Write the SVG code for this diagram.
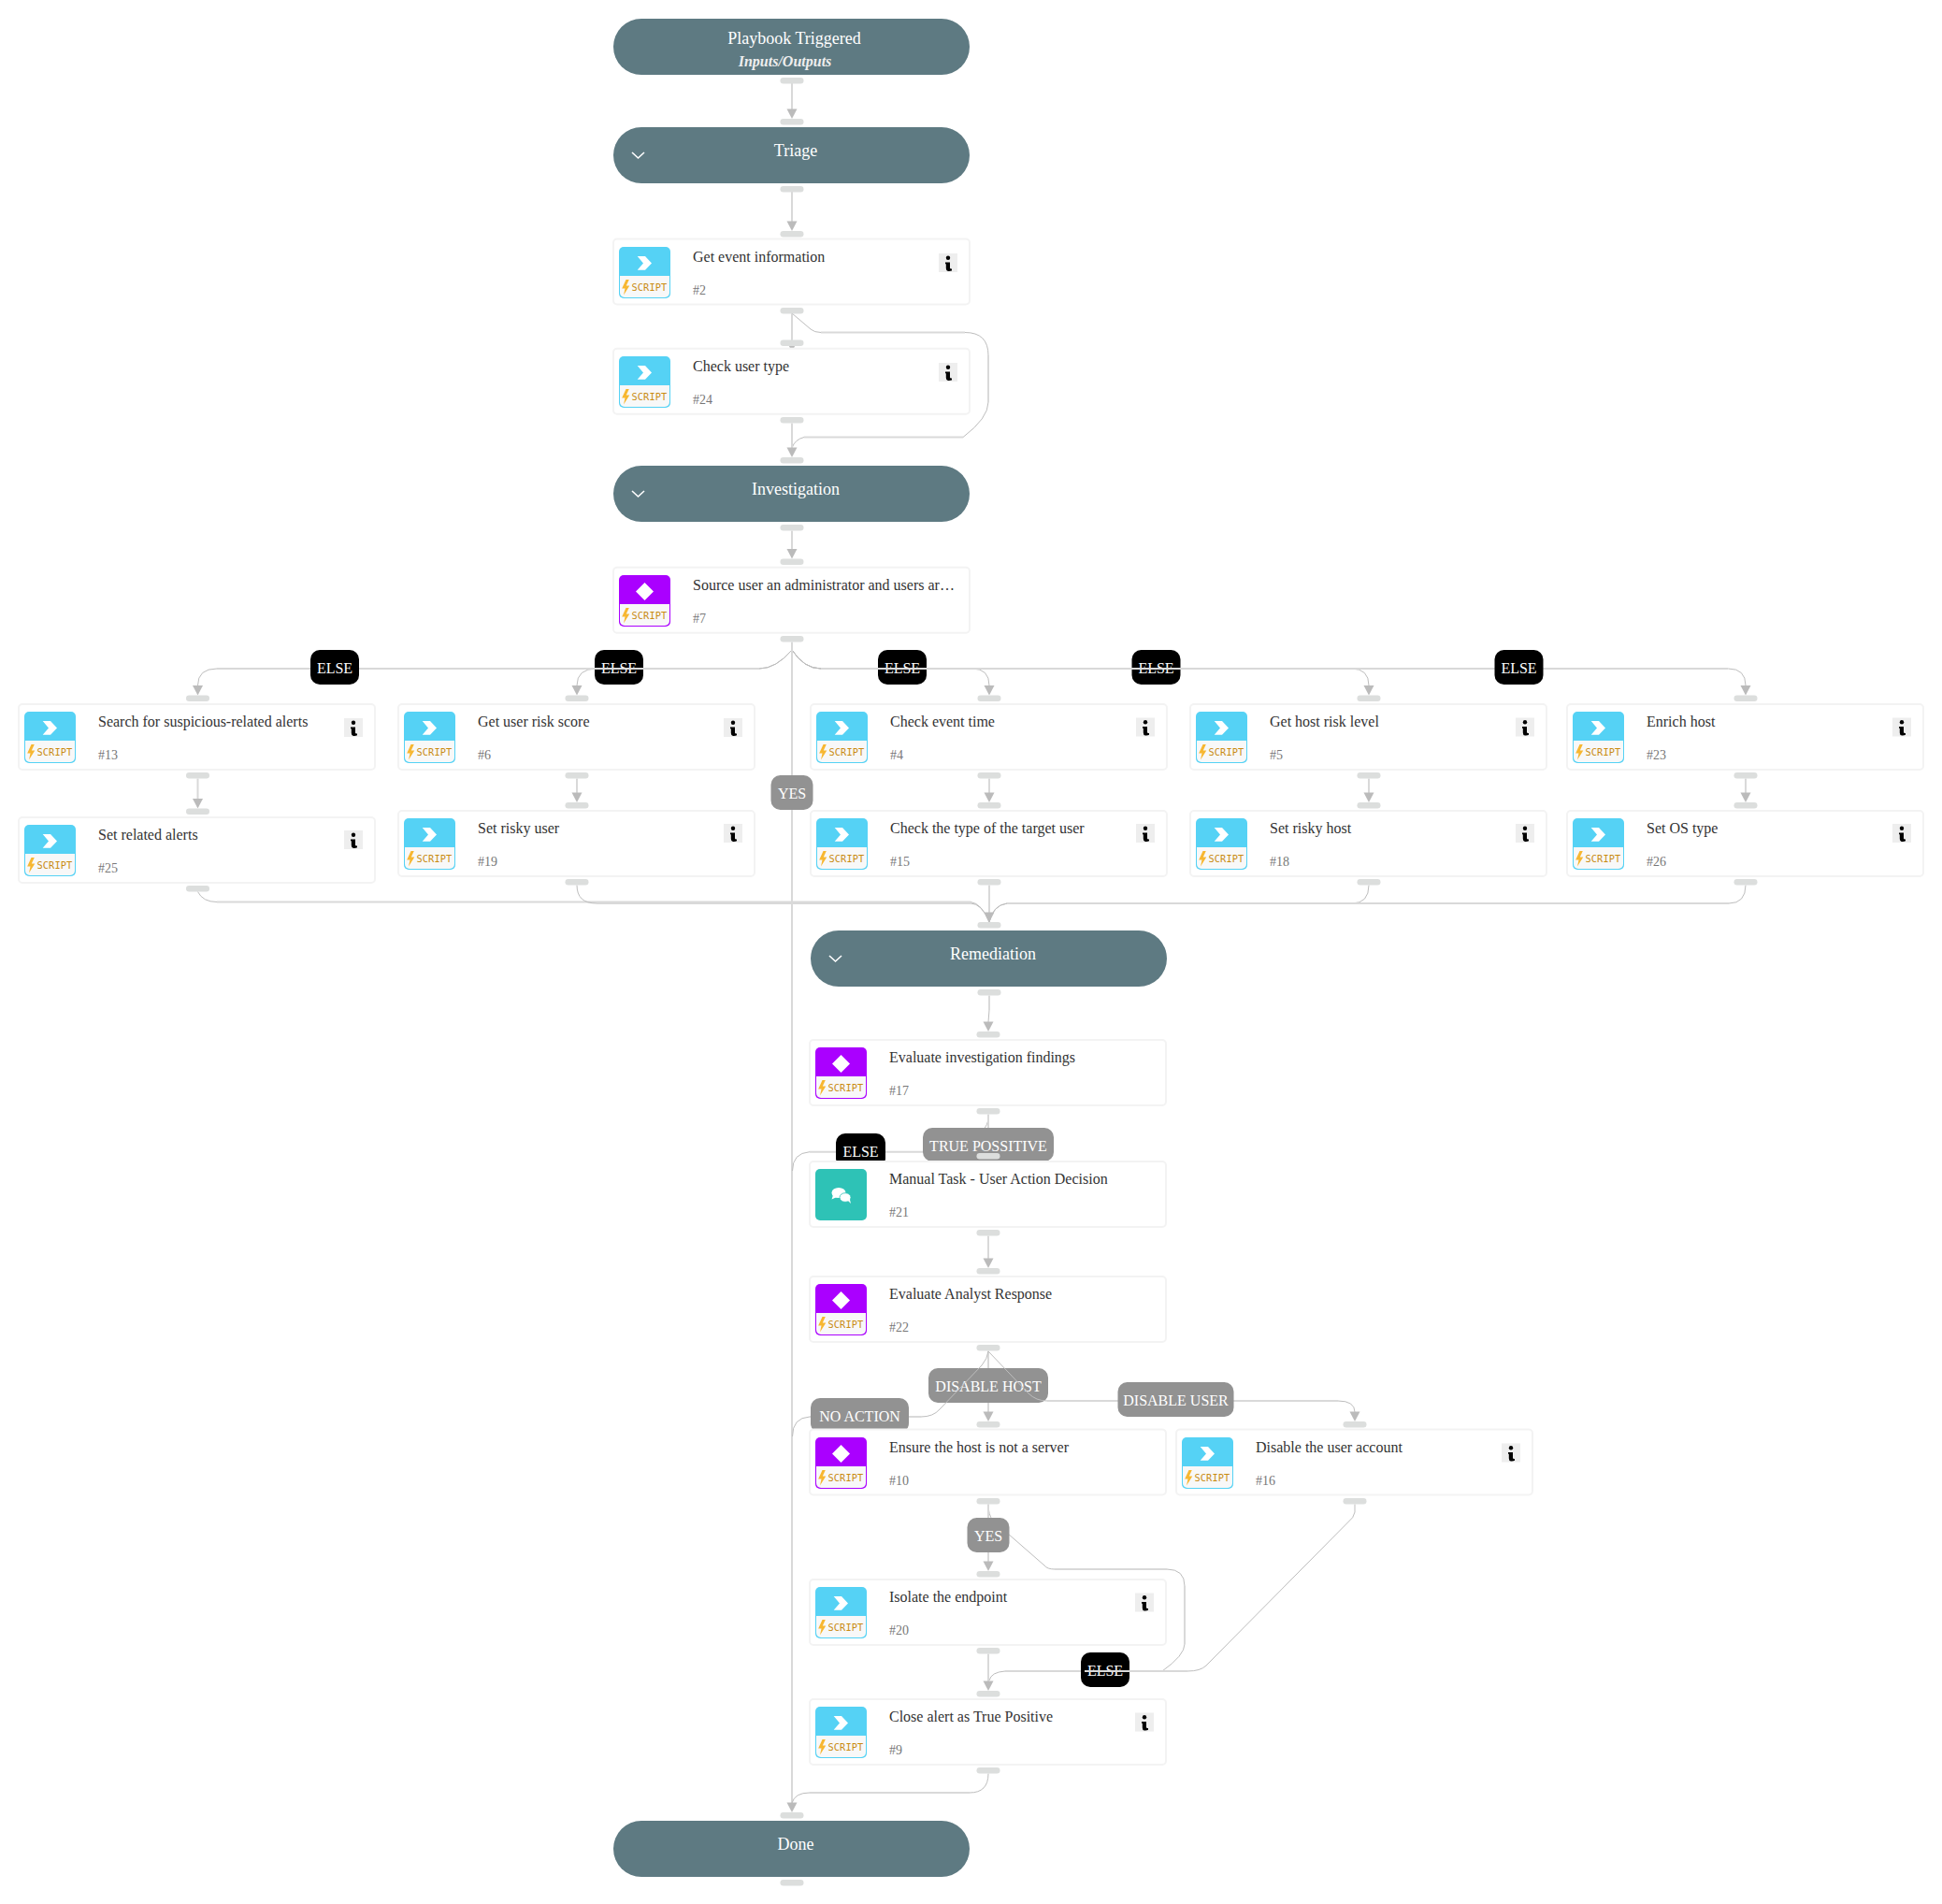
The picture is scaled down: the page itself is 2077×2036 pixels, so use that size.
<svg xmlns="http://www.w3.org/2000/svg" width="2077" height="2036" viewBox="0 0 2077 2036">
<style>
text{font-family:"Liberation Serif","Times New Roman",serif}
.pill{fill:#5e7a82}
.pt{fill:#fff;font-size:18px;text-anchor:middle}
.io{fill:#eee;font-size:16px;font-weight:bold;font-style:italic;text-anchor:middle}
.ch{fill:none;stroke:#fff;stroke-width:1.6}
.box{fill:#fff;stroke:#f3f3f3;stroke-width:2}
.t{fill:#333;font-size:16px}
.n{fill:#777;font-size:14px}
.sc{fill:#c98b12;font-size:10.3px;font-family:"DejaVu Sans Mono","Liberation Mono",monospace;letter-spacing:.1px}
.p{fill:#dcdedd}
.l{fill:none;stroke:#d9d9d9;stroke-width:2}
.c{fill:none;stroke:#bdbdbd;stroke-width:1}
.bk{fill:#000}
.gy{fill:#929292}
.bt{fill:#fff;font-size:16px;text-anchor:middle}
</style>
<defs>
<polygon id="arr" points="-5.5,-10.5 5.5,-10.5 0,0" fill="#bbb"/>
<g id="bolt"><polygon points="7.5,35 3.2,44.500 6.5,44.500 5,51.500 11.3,41.500 7.8,41.500 10.8,35" fill="#f7b731"/></g>
<g id="ib"><rect width="55" height="55" rx="5" fill="#55d2f5"/><path d="M1 31H54V49a5 5 0 0 1-5 5H6a5 5 0 0 1-5-5Z" fill="#f8f8f8"/><polygon points="19.7,10 28,10 35,17.5 28,24.7 19.7,24.7 26,17.5" fill="#fff"/><use href="#bolt"/></g>
<g id="ip"><rect width="55" height="55" rx="5" fill="#aa00ff"/><path d="M1 31H54V49a5 5 0 0 1-5 5H6a5 5 0 0 1-5-5Z" fill="#f8f8f8"/><polygon points="27.5,8 37,17.5 27.5,27 18,17.5" fill="#fff"/><use href="#bolt"/></g>
<g id="inf"><rect width="20" height="20" fill="#eee"/><circle cx="10" cy="4.7" r="2.2" fill="#000"/><path d="M7 9.5H12V15.5Q12 16.8 14 16.5V18.2Q12.5 19.2 10 19Q7.8 18.8 7.8 16V11.3H7Z" fill="#000"/></g>
</defs>
<rect width="2077" height="2036" fill="#fff"/>

<g id="connectors">
<g id="e-start-triage"><path class="l" d="M847 89V117"/><use href="#arr" x="847" y="127"/></g>
<g id="e-triage-2"><path class="l" d="M847 205V237"/><use href="#arr" x="847" y="247"/></g>
<g id="e-2-24"><path class="l" d="M847 335V366"/><use href="#arr" x="847" y="376"/></g>
<g id="e-2-inv"><path class="c" d="M847 335L867 352Q871 355.5 878 355.5M1032 355.5Q1057 355.5 1057 380M1057 430Q1057 447 1030 467.5M860 467.5Q850 470 847 479"/><path class="l" d="M878 355.5H1032M1057 380V430M1030 467.5H860"/></g>
<g id="e-24-inv"><path class="l" d="M847 452.5V479"/><use href="#arr" x="847" y="489"/></g>
<g id="e-inv-7"><path class="l" d="M847 567.5V587"/><use href="#arr" x="847" y="597.5"/></g>

<g id="e-7-6"><path class="c" d="M847 695Q830 715 812 715M638 715Q617 715 617 733"/><path class="l" d="M812 715H638"/><use href="#arr" x="617" y="743.5"/><rect class="bk" x="636" y="695" width="52" height="37" rx="10"/><text class="bt" x="662" y="720">ELSE</text></g>
<g id="e-7-13"><path class="c" d="M847 695Q830 715 812 715M232 715Q211.5 715 211.5 733"/><path class="l" d="M812 715H232"/><use href="#arr" x="211.5" y="743.5"/><rect class="bk" x="332" y="695" width="52" height="37" rx="10"/><text class="bt" x="358" y="720">ELSE</text></g>
<g id="e-7-4"><path class="c" d="M847 695Q860 715 878 715M1040 715Q1058 715 1058 733"/><path class="l" d="M878 715H1040"/><use href="#arr" x="1058" y="743.5"/><rect class="bk" x="939" y="695" width="52" height="37" rx="10"/><text class="bt" x="965" y="720">ELSE</text></g>
<g id="e-7-5"><path class="c" d="M847 695Q860 715 878 715M1445.5 715Q1464 715 1464 733"/><path class="l" d="M878 715H1445.5"/><use href="#arr" x="1464" y="743.5"/><rect class="bk" x="1210.5" y="695" width="52" height="37" rx="10"/><text class="bt" x="1236.5" y="720">ELSE</text></g>
<g id="e-7-23"><path class="c" d="M847 695Q860 715 878 715M1848.5 715Q1867 715 1867 733"/><path class="l" d="M878 715H1848.5"/><use href="#arr" x="1867" y="743.5"/><rect class="bk" x="1598.5" y="695" width="52" height="37" rx="10"/><text class="bt" x="1624.5" y="720">ELSE</text></g>
<g id="e-7-done"><path class="l" d="M847 686.5V1928"/><use href="#arr" x="847" y="1938"/><rect class="gy" x="824.5" y="829" width="45" height="37" rx="10"/><text class="bt" x="847" y="854">YES</text></g>

<g id="e-13-25"><path class="l" d="M211.5 832.5V855"/><use href="#arr" x="211.5" y="864.5"/></g>
<g id="e-6-19"><path class="l" d="M617 832.5V848"/><use href="#arr" x="617" y="858"/></g>
<g id="e-4-15"><path class="l" d="M1058 832.5V848"/><use href="#arr" x="1058" y="858"/></g>
<g id="e-5-18"><path class="l" d="M1464 832.5V848"/><use href="#arr" x="1464" y="858"/></g>
<g id="e-23-26"><path class="l" d="M1867 832.5V848"/><use href="#arr" x="1867" y="858"/></g>

<g id="e-25-rem"><path class="c" d="M211.5 953.5Q217 964.5 232 964.5M1038 964.5Q1050 966 1058 986"/><path class="l" d="M232 964.5H1038"/></g>
<g id="e-19-rem"><path class="c" d="M617 946.5Q617 966 638 966M1038 966Q1050 966 1058 986"/><path class="l" d="M638 966H1038"/></g>
<g id="e-18-rem"><path class="c" d="M1464 946.5Q1464 966 1446 966M1077 966Q1062 968 1058 986"/><path class="l" d="M1446 966H1077"/></g>
<g id="e-26-rem"><path class="c" d="M1867 946.5Q1867 966 1849 966M1077 966Q1062 968 1058 986"/><path class="l" d="M1849 966H1077"/></g>
<g id="e-15-rem"><path class="l" d="M1058 946.5V976"/><use href="#arr" x="1058" y="986"/></g>
<g id="e-rem-17"><path class="l" d="M1058 1064.5V1080"/><path class="c" d="M1058 1080L1057 1093"/><use href="#arr" x="1057" y="1103"/></g>

<g id="e-17-else"><path class="c" d="M1057 1195Q1057 1203 1050 1210M866 1231.7Q847.5 1233 847.5 1252"/><path class="l" d="M866 1231.7H1040"/><rect class="bk" x="894" y="1212" width="53" height="37" rx="10"/><text class="bt" x="920.5" y="1237">ELSE</text></g>
<g id="e-17-21"><path class="l" d="M1057 1191.5V1223"/><use href="#arr" x="1057" y="1233"/><rect class="gy" x="987" y="1206" width="140" height="36" rx="10"/><text class="bt" x="1057" y="1231">TRUE POSSITIVE</text></g>
<g id="e-21-22"><path class="l" d="M1057 1321.5V1346"/><use href="#arr" x="1057" y="1356"/></g>

<g id="e-22-10"><path class="l" d="M1057 1444.5V1510"/><use href="#arr" x="1057" y="1520"/><rect class="gy" x="993" y="1463" width="128" height="37" rx="10"/><text class="bt" x="1057" y="1488">DISABLE HOST</text></g>
<g id="e-22-done"><path class="c" d="M1057 1445Q1056 1453 1050 1460L1005 1507Q998 1515 985 1515M866 1515Q847.5 1516 847.5 1536"/><path class="l" d="M985 1515H866"/><rect class="gy" x="867" y="1495" width="105" height="37" rx="10"/><text class="bt" x="919.5" y="1520">NO ACTION</text></g>
<g id="e-22-16"><path class="c" d="M1057 1445L1100 1490Q1108 1498 1120 1498M1431 1498Q1449 1498 1449 1510"/><path class="l" d="M1120 1498H1431"/><use href="#arr" x="1449" y="1520"/><rect class="gy" x="1195.5" y="1478" width="124" height="37" rx="10"/><text class="bt" x="1257.5" y="1503">DISABLE USER</text></g>

<g id="e-10-9"><path class="c" d="M1057 1608.5Q1057 1620 1062 1626L1117 1674Q1120 1678 1128 1678M1248 1678Q1267 1678 1267 1696M1267 1758Q1267 1770 1243 1787M1075 1787Q1060 1788 1058 1797"/><path class="l" d="M1128 1678H1248M1267 1696V1758M1243 1787H1075"/><rect class="bk" x="1156" y="1767" width="52" height="37" rx="10"/><text class="bt" x="1182" y="1792">ELSE</text></g>
<g id="e-10-20"><path class="l" d="M1057 1608.5V1670"/><use href="#arr" x="1057" y="1680"/><rect class="gy" x="1034.5" y="1623" width="45" height="37" rx="10"/><text class="bt" x="1057" y="1648">YES</text></g>
<g id="e-16-9"><path class="c" d="M1449 1608.5V1617Q1448 1623 1441.5 1628L1290 1781Q1284 1787 1270 1787"/><path class="l" d="M1270 1787H1160"/></g>
<g id="e-20-9"><path class="l" d="M1057 1768.5V1798"/><use href="#arr" x="1057" y="1808"/></g>
<g id="e-9-done"><path class="c" d="M1057 1896.5Q1057 1917 1037 1917M866 1917Q850 1917 847 1928"/><path class="l" d="M1037 1917H866"/></g>
</g>

<g id="n-start"><rect class="pill" x="656" y="20" width="381" height="60" rx="30"/><text class="pt" x="849.5" y="47">Playbook Triggered</text><text class="io" x="839.5" y="71">Inputs/Outputs</text><rect class="p" x="834.5" y="83" width="25" height="6.5" rx="3.2"/></g>
<g id="n-triage"><rect class="pill" x="656" y="136" width="381" height="60" rx="30"/><polyline class="ch" points="676,163 682.5,169 689,163"/><text class="pt" x="851" y="167">Triage</text><rect class="p" x="834.5" y="127" width="25" height="6.5" rx="3.2"/><rect class="p" x="834.5" y="199" width="25" height="6.5" rx="3.2"/></g>

<g id="n-2"><rect class="p" x="834.5" y="247" width="25" height="6.5" rx="3.2"/><rect class="box" x="656" y="255.5" width="381" height="70" rx="4"/><use href="#ib" x="662" y="264"/><text class="sc" x="675.5" y="311">SCRIPT</text><text class="t" x="741" y="280">Get event information</text><text class="n" x="741" y="315">#2</text><use href="#inf" x="1004" y="271"/><rect class="p" x="834.5" y="329" width="25" height="6.5" rx="3.2"/></g>
<g id="n-24"><rect class="p" x="834.5" y="363.5" width="25" height="6.5" rx="3.2"/><rect class="box" x="656" y="372.7" width="381" height="70" rx="4"/><use href="#ib" x="662" y="381"/><text class="sc" x="675.5" y="428">SCRIPT</text><text class="t" x="741" y="397">Check user type</text><text class="n" x="741" y="432">#24</text><use href="#inf" x="1004" y="388"/><rect class="p" x="834.5" y="446" width="25" height="6.5" rx="3.2"/></g>

<g id="n-inv"><rect class="p" x="834.5" y="489" width="25" height="6.5" rx="3.2"/><rect class="pill" x="656" y="498" width="381" height="60" rx="30"/><polyline class="ch" points="676,525 682.5,531 689,525"/><text class="pt" x="851" y="529">Investigation</text><rect class="p" x="834.5" y="561" width="25" height="6.5" rx="3.2"/></g>

<g id="n-7"><rect class="p" x="834.5" y="597.5" width="25" height="6.5" rx="3.2"/><rect class="box" x="656" y="606.7" width="381" height="70" rx="4"/><use href="#ip" x="662" y="615"/><text class="sc" x="675.5" y="662">SCRIPT</text><text class="t" x="741" y="631">Source user an administrator and users ar…</text><text class="n" x="741" y="666">#7</text><rect class="p" x="834.5" y="680" width="25" height="6.5" rx="3.2"/></g>

<g id="n-13"><rect class="p" x="199" y="743.5" width="25" height="6.5" rx="3.2"/><rect class="box" x="20" y="753" width="381" height="70" rx="4"/><use href="#ib" x="26" y="761"/><text class="sc" x="39.5" y="808">SCRIPT</text><text class="t" x="105" y="776.5">Search for suspicious-related alerts</text><text class="n" x="105" y="811.5">#13</text><use href="#inf" x="368" y="768"/><rect class="p" x="199" y="826" width="25" height="6.5" rx="3.2"/></g>
<g id="n-25"><rect class="p" x="199" y="864.5" width="25" height="6.5" rx="3.2"/><rect class="box" x="20" y="874" width="381" height="70" rx="4"/><use href="#ib" x="26" y="882"/><text class="sc" x="39.5" y="929">SCRIPT</text><text class="t" x="105" y="897.5">Set related alerts</text><text class="n" x="105" y="932.5">#25</text><use href="#inf" x="368" y="888"/><rect class="p" x="199" y="947" width="25" height="6.5" rx="3.2"/></g>
<g id="n-6"><rect class="p" x="604.5" y="743.5" width="25" height="6.5" rx="3.2"/><rect class="box" x="426" y="753" width="381" height="70" rx="4"/><use href="#ib" x="432" y="761"/><text class="sc" x="445.5" y="808">SCRIPT</text><text class="t" x="511" y="776.5">Get user risk score</text><text class="n" x="511" y="811.5">#6</text><use href="#inf" x="774" y="768"/><rect class="p" x="604.5" y="826" width="25" height="6.5" rx="3.2"/></g>
<g id="n-19"><rect class="p" x="604.5" y="858" width="25" height="6.5" rx="3.2"/><rect class="box" x="426" y="867" width="381" height="70" rx="4"/><use href="#ib" x="432" y="875"/><text class="sc" x="445.5" y="922">SCRIPT</text><text class="t" x="511" y="890.5">Set risky user</text><text class="n" x="511" y="925.5">#19</text><use href="#inf" x="774" y="881"/><rect class="p" x="604.5" y="940" width="25" height="6.5" rx="3.2"/></g>
<g id="n-4"><rect class="p" x="1045.5" y="743.5" width="25" height="6.5" rx="3.2"/><rect class="box" x="867" y="753" width="381" height="70" rx="4"/><use href="#ib" x="873" y="761"/><text class="sc" x="886.5" y="808">SCRIPT</text><text class="t" x="952" y="776.5">Check event time</text><text class="n" x="952" y="811.5">#4</text><use href="#inf" x="1215" y="767.5"/><rect class="p" x="1045.5" y="826" width="25" height="6.5" rx="3.2"/></g>
<g id="n-15"><rect class="p" x="1045.5" y="858" width="25" height="6.5" rx="3.2"/><rect class="box" x="867" y="867" width="381" height="70" rx="4"/><use href="#ib" x="873" y="875"/><text class="sc" x="886.5" y="922">SCRIPT</text><text class="t" x="952" y="890.5">Check the type of the target user</text><text class="n" x="952" y="925.5">#15</text><use href="#inf" x="1215" y="881"/><rect class="p" x="1045.5" y="940" width="25" height="6.5" rx="3.2"/></g>
<g id="n-5"><rect class="p" x="1451.5" y="743.5" width="25" height="6.5" rx="3.2"/><rect class="box" x="1273" y="753" width="381" height="70" rx="4"/><use href="#ib" x="1279" y="761"/><text class="sc" x="1292.5" y="808">SCRIPT</text><text class="t" x="1358" y="776.5">Get host risk level</text><text class="n" x="1358" y="811.5">#5</text><use href="#inf" x="1621" y="767.5"/><rect class="p" x="1451.5" y="826" width="25" height="6.5" rx="3.2"/></g>
<g id="n-18"><rect class="p" x="1451.5" y="858" width="25" height="6.5" rx="3.2"/><rect class="box" x="1273" y="867" width="381" height="70" rx="4"/><use href="#ib" x="1279" y="875"/><text class="sc" x="1292.5" y="922">SCRIPT</text><text class="t" x="1358" y="890.5">Set risky host</text><text class="n" x="1358" y="925.5">#18</text><use href="#inf" x="1621" y="881"/><rect class="p" x="1451.5" y="940" width="25" height="6.5" rx="3.2"/></g>
<g id="n-23"><rect class="p" x="1854.5" y="743.5" width="25" height="6.5" rx="3.2"/><rect class="box" x="1676" y="753" width="381" height="70" rx="4"/><use href="#ib" x="1682" y="761"/><text class="sc" x="1695.5" y="808">SCRIPT</text><text class="t" x="1761" y="776.5">Enrich host</text><text class="n" x="1761" y="811.5">#23</text><use href="#inf" x="2024" y="767.5"/><rect class="p" x="1854.5" y="826" width="25" height="6.5" rx="3.2"/></g>
<g id="n-26"><rect class="p" x="1854.5" y="858" width="25" height="6.5" rx="3.2"/><rect class="box" x="1676" y="867" width="381" height="70" rx="4"/><use href="#ib" x="1682" y="875"/><text class="sc" x="1695.5" y="922">SCRIPT</text><text class="t" x="1761" y="890.5">Set OS type</text><text class="n" x="1761" y="925.5">#26</text><use href="#inf" x="2024" y="881"/><rect class="p" x="1854.5" y="940" width="25" height="6.5" rx="3.2"/></g>

<g id="n-rem"><rect class="p" x="1045.5" y="986" width="25" height="6.5" rx="3.2"/><rect class="pill" x="867" y="995" width="381" height="60" rx="30"/><polyline class="ch" points="887,1022 893.5,1028 900,1022"/><text class="pt" x="1062" y="1026">Remediation</text><rect class="p" x="1045.5" y="1058" width="25" height="6.5" rx="3.2"/></g>

<g id="n-17"><rect class="p" x="1044.5" y="1103" width="25" height="6.5" rx="3.2"/><rect class="box" x="866" y="1112" width="381" height="70" rx="4"/><use href="#ip" x="872" y="1120"/><text class="sc" x="885.5" y="1167">SCRIPT</text><text class="t" x="951" y="1135.5">Evaluate investigation findings</text><text class="n" x="951" y="1170.5">#17</text><rect class="p" x="1044.5" y="1185" width="25" height="6.5" rx="3.2"/></g>
<g id="n-21"><rect class="box" x="866" y="1242" width="381" height="70" rx="4"/><rect x="872" y="1250" width="55" height="55" rx="5" fill="#2ec2b6"/><ellipse cx="897" cy="1275.5" rx="7.5" ry="5.5" fill="#fff"/><polygon points="891,1278 889.5,1282.5 895,1280" fill="#fff"/><ellipse cx="904" cy="1280.5" rx="6" ry="4.8" fill="#fff" stroke="#2ec2b6" stroke-width=".8"/><polygon points="906,1283 910,1287 908.5,1281" fill="#fff"/><text class="t" x="951" y="1265.5">Manual Task - User Action Decision</text><text class="n" x="951" y="1300.5">#21</text><rect class="p" x="1044.5" y="1233" width="25" height="6.5" rx="3.2"/><rect class="p" x="1044.5" y="1315" width="25" height="6.5" rx="3.2"/></g>
<g id="n-22"><rect class="p" x="1044.5" y="1356" width="25" height="6.5" rx="3.2"/><rect class="box" x="866" y="1365" width="381" height="70" rx="4"/><use href="#ip" x="872" y="1373"/><text class="sc" x="885.5" y="1420">SCRIPT</text><text class="t" x="951" y="1388.5">Evaluate Analyst Response</text><text class="n" x="951" y="1423.5">#22</text><rect class="p" x="1044.5" y="1438" width="25" height="6.5" rx="3.2"/></g>
<g id="n-10"><rect class="p" x="1044.5" y="1520" width="25" height="6.5" rx="3.2"/><rect class="box" x="866" y="1528.5" width="381" height="70" rx="4"/><use href="#ip" x="872" y="1537"/><text class="sc" x="885.5" y="1584">SCRIPT</text><text class="t" x="951" y="1553">Ensure the host is not a server</text><text class="n" x="951" y="1588">#10</text><rect class="p" x="1044.5" y="1602" width="25" height="6.5" rx="3.2"/></g>
<g id="n-16"><rect class="p" x="1436.5" y="1520" width="25" height="6.5" rx="3.2"/><rect class="box" x="1258" y="1528.5" width="381" height="70" rx="4"/><use href="#ib" x="1264" y="1537"/><text class="sc" x="1277.5" y="1584">SCRIPT</text><text class="t" x="1343" y="1553">Disable the user account</text><text class="n" x="1343" y="1588">#16</text><use href="#inf" x="1606" y="1543.5"/><rect class="p" x="1436.5" y="1602" width="25" height="6.5" rx="3.2"/></g>
<g id="n-20"><rect class="p" x="1044.5" y="1680" width="25" height="6.5" rx="3.2"/><rect class="box" x="866" y="1689" width="381" height="70" rx="4"/><use href="#ib" x="872" y="1697"/><text class="sc" x="885.5" y="1744">SCRIPT</text><text class="t" x="951" y="1712.5">Isolate the endpoint</text><text class="n" x="951" y="1747.5">#20</text><use href="#inf" x="1214" y="1703.5"/><rect class="p" x="1044.5" y="1762" width="25" height="6.5" rx="3.2"/></g>
<g id="n-9"><rect class="p" x="1044.5" y="1808" width="25" height="6.5" rx="3.2"/><rect class="box" x="866" y="1817" width="381" height="70" rx="4"/><use href="#ib" x="872" y="1825"/><text class="sc" x="885.5" y="1872">SCRIPT</text><text class="t" x="951" y="1840.5">Close alert as True Positive</text><text class="n" x="951" y="1875.5">#9</text><use href="#inf" x="1214" y="1831.5"/><rect class="p" x="1044.5" y="1890" width="25" height="6.5" rx="3.2"/></g>

<g id="n-done"><rect class="p" x="834.5" y="1938" width="25" height="6.5" rx="3.2"/><rect class="pill" x="656" y="1947" width="381" height="60" rx="30"/><text class="pt" x="851" y="1978">Done</text><rect class="p" x="834.5" y="2010" width="25" height="6.5" rx="3.2"/></g>
</svg>
